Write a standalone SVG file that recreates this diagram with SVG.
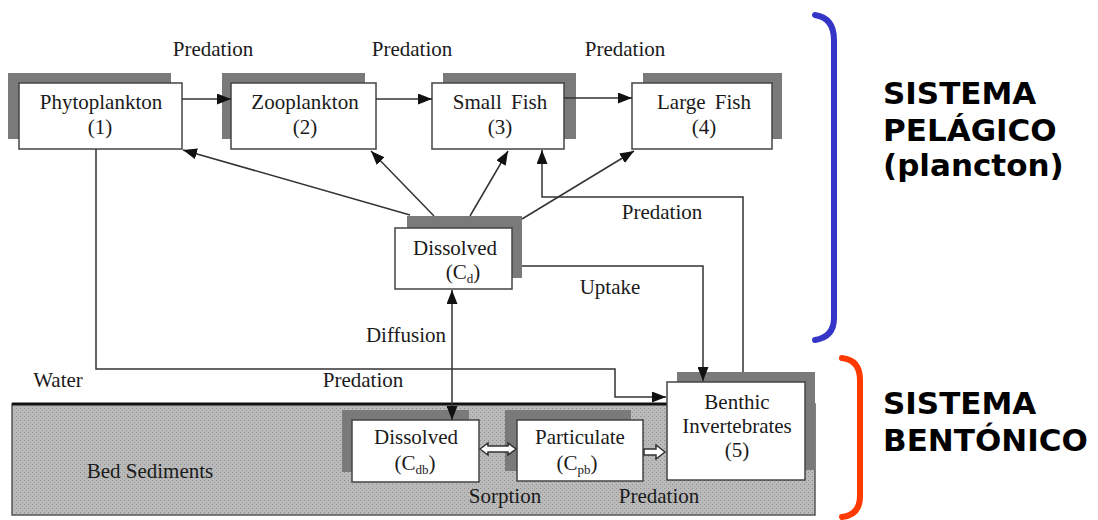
<svg xmlns="http://www.w3.org/2000/svg" width="1098" height="520" viewBox="0 0 1098 520">
<style>
.t{font-family:"Liberation Serif","Times New Roman",serif;font-size:21px;fill:#1a1a1a;text-anchor:middle}
.box{fill:#fff;stroke:#444;stroke-width:1.5}
.sh{fill:#7a7a7a}
.c{fill:none;stroke:#333;stroke-width:1.5}
.h{fill:#fff;stroke:#333;stroke-width:1.5}
.big{font-family:"Comic Sans MS","DejaVu Sans",sans-serif;font-weight:bold;font-size:31px;fill:#000}
</style>
<defs>
<pattern id="dots" width="4" height="4" patternUnits="userSpaceOnUse">
<rect width="4" height="4" fill="#bababa"/>
<rect width="1" height="1" fill="#8e8e8e"/>
<rect x="2" y="2" width="1" height="1" fill="#9c9c9c"/>
</pattern>
<pattern id="dk" width="3" height="3" patternUnits="userSpaceOnUse">
<rect width="3" height="3" fill="#7c7c7c"/>
<rect width="1" height="1" fill="#555"/>
</pattern>
<marker id="ar" markerWidth="14" markerHeight="11" refX="14" refY="5.5" orient="auto-start-reverse" markerUnits="userSpaceOnUse">
<path d="M0,0 L14,5.5 L0,11 z" fill="#111"/>
</marker>
</defs>

<g id="sediment">
<rect x="12" y="404" width="803" height="111" fill="url(#dots)" stroke="#555" stroke-width="1.5"/>
<line x1="12" y1="404" x2="667" y2="404" stroke="#111" stroke-width="3"/>
<text class="t" x="150" y="478">Bed Sediments</text>
</g>

<g id="phytoplankton">
<rect class="sh" x="8" y="73" width="163" height="66" fill="url(#dk)"/>
<rect class="box" x="19" y="83" width="163" height="66"/>
<text class="t" x="101" y="109">Phytoplankton</text>
<text class="t" x="100" y="134">(1)</text>
</g>
<g id="zooplankton">
<rect class="sh" x="222" y="73" width="143" height="66" fill="url(#dk)"/>
<rect class="box" x="231" y="83" width="145" height="66"/>
<text class="t" x="305" y="109">Zooplankton</text>
<text class="t" x="305" y="134">(2)</text>
</g>
<g id="smallfish">
<rect class="sh" x="443" y="73" width="133" height="66" fill="url(#dk)"/>
<rect class="box" x="432" y="83" width="132" height="66"/>
<text class="t" x="500" y="109" word-spacing="4">Small Fish</text>
<text class="t" x="500" y="134">(3)</text>
</g>
<g id="largefish">
<rect class="sh" x="643" y="73" width="139" height="66" fill="url(#dk)"/>
<rect class="box" x="632" y="83" width="140" height="66"/>
<text class="t" x="704" y="109" word-spacing="4">Large Fish</text>
<text class="t" x="704" y="134">(4)</text>
</g>
<g id="dissolved-water">
<rect class="sh" x="407" y="216" width="115" height="62" fill="url(#dk)"/>
<rect class="box" x="395" y="228" width="117" height="61"/>
<text class="t" x="455" y="255">Dissolved</text>
<text class="t" x="463" y="279">(C<tspan font-size="13" dy="4">d</tspan><tspan dy="-4">)</tspan></text>
</g>
<g id="dissolved-bed">
<rect class="sh" x="342" y="410" width="127" height="62" fill="#858585"/>
<rect class="box" x="352" y="420" width="127" height="62"/>
<text class="t" x="416" y="444">Dissolved</text>
<text class="t" x="415" y="470">(C<tspan font-size="13" dy="4">db</tspan><tspan dy="-4">)</tspan></text>
</g>
<g id="particulate">
<rect class="sh" x="505" y="410" width="126" height="61" fill="#858585"/>
<rect class="box" x="517" y="420" width="126" height="61"/>
<text class="t" x="580" y="444">Particulate</text>
<text class="t" x="577" y="470">(C<tspan font-size="13" dy="4">pb</tspan><tspan dy="-4">)</tspan></text>
</g>
<g id="benthic">
<rect class="sh" x="677" y="372" width="138" height="98" fill="url(#dk)"/>
<rect class="box" x="667" y="382" width="138" height="98"/>
<text class="t" x="737" y="409">Benthic</text>
<text class="t" x="737" y="433">Invertebrates</text>
<text class="t" x="737" y="457">(5)</text>
</g>

<g id="connectors">
<path class="c" d="M182,99 L231,99" marker-end="url(#ar)"/>
<path class="c" d="M376,99 L432,99" marker-end="url(#ar)"/>
<path class="c" d="M564,98 L632,98" marker-end="url(#ar)"/>
<path class="c" d="M410,215 L183,150" marker-end="url(#ar)"/>
<path class="c" d="M434,216 L371,151" marker-end="url(#ar)"/>
<path class="c" d="M470,216 L508,151" marker-end="url(#ar)"/>
<path class="c" d="M522,219 L634,151" marker-end="url(#ar)"/>
<path class="c" d="M743,372 L743,197 L542,197 L542,150" marker-end="url(#ar)"/>
<path class="c" d="M522,266 L703,266 L703,381" marker-end="url(#ar)"/>
<path class="c" d="M96,149 L96,369 L615,369 L615,397 L666,397" marker-end="url(#ar)"/>
<path class="c" d="M452,290 L452,420" marker-start="url(#ar)" marker-end="url(#ar)"/>
<polygon class="h" points="480,449 488,443 488,446 508,446 508,443 516,449 508,455 508,452 488,452 488,455"/>
<polygon class="h" points="644,449 656,449 656,445 665,452 656,459 656,455 644,455"/>
<text class="t" x="213" y="56">Predation</text>
<text class="t" x="412" y="56">Predation</text>
<text class="t" x="625" y="56">Predation</text>
<text class="t" x="662" y="219">Predation</text>
<text class="t" x="610" y="294">Uptake</text>
<text class="t" x="406" y="342">Diffusion</text>
<text class="t" x="58" y="387">Water</text>
<text class="t" x="363" y="387">Predation</text>
<text class="t" x="505" y="503">Sorption</text>
<text class="t" x="659" y="503">Predation</text>
</g>

<g id="brackets">
<path d="M815,15 Q834,18 834,40 L834,318 Q834,337 815,340" fill="none" stroke="#3535c8" stroke-width="6" stroke-linecap="round"/>
<path d="M842,358 Q860,360 860,380 L860,496 Q860,515 842,517" fill="none" stroke="#ff3a00" stroke-width="6" stroke-linecap="round"/>
</g>
<g id="labels">
<text class="big" x="883" y="104">SISTEMA</text>
<text class="big" x="883" y="141">PELÁGICO</text>
<text class="big" x="883" y="176">(plancton)</text>
<text class="big" x="883" y="414">SISTEMA</text>
<text class="big" x="883" y="451">BENTÓNICO</text>
</g>
</svg>
